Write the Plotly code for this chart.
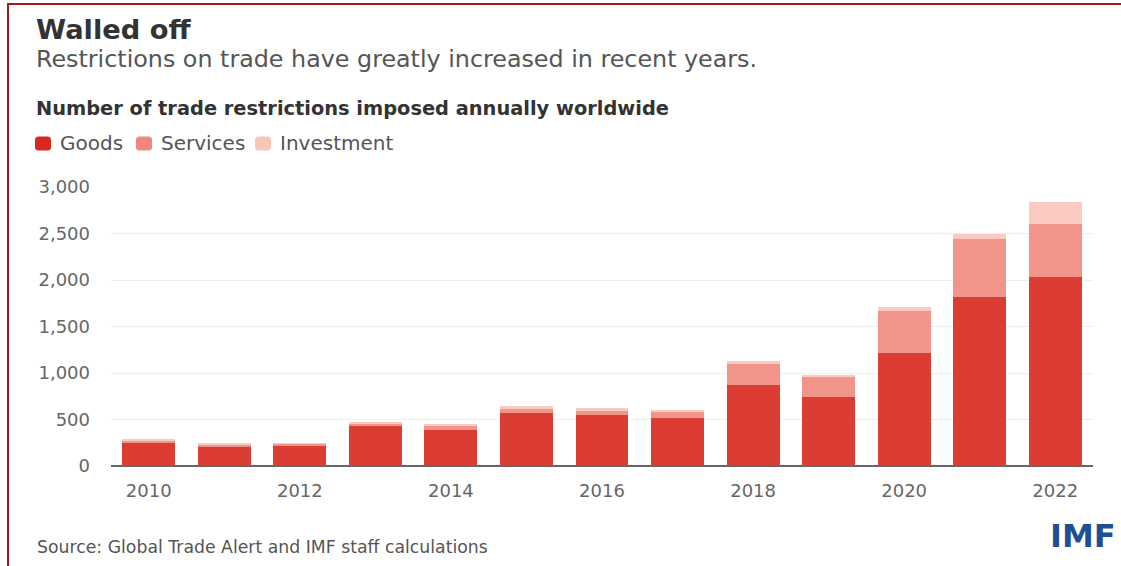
import plotly.graph_objects as go

# ---- data ----
years = [2010, 2011, 2012, 2013, 2014, 2015, 2016, 2017, 2018, 2019, 2020, 2021, 2022]
goods = [250, 215, 218, 430, 387, 573, 548, 516, 870, 745, 1210, 1812, 2027]
services = [25, 20, 20, 25, 50, 39, 53, 75, 233, 207, 462, 626, 572]
investment = [10, 8, 7, 10, 12, 32, 18, 10, 21, 22, 43, 54, 244]
series_names = ["Goods", "Services", "Investment"]
series_colors = ["#DC3D32", "#F1958A", "#FBCBC1"]
y_ticks = [0, 500, 1000, 1500, 2000, 2500, 3000]
x_ticks = [2010, 2012, 2014, 2016, 2018, 2020, 2022]

title = "Walled off"
subtitle = "Restrictions on trade have greatly increased in recent years."
chart_title = "Number of trade restrictions imposed annually worldwide"
source = "Source: Global Trade Alert and IMF staff calculations"
logo = "IMF"

# ---- layout geometry (pixels) ----
W, H = 1121, 566
L, R, T, B = 111, 28, 187, 100
PW, PH = W - L - R, H - T - B
FONT = "DejaVu Sans"


def px(xp):
    return (xp - L) / PW


def py(yp):
    return (H - B - yp) / PH


fig = go.Figure()
for name, vals, col in zip(series_names, [goods, services, investment], series_colors):
    fig.add_trace(go.Bar(
        x=years, y=vals, name=name, width=0.70,
        marker=dict(color=col, line=dict(width=0)),
        showlegend=False,
    ))

annotations = [
    dict(text="<b>" + title + "</b>", x=px(34), y=py(30), xanchor="left", yanchor="middle",
         font=dict(family=FONT, size=27.3, color="#333333")),
    dict(text=subtitle, x=px(34), y=py(59), xanchor="left", yanchor="middle",
         font=dict(family=FONT, size=23.8, color="#555555")),
    dict(text="<b>" + chart_title + "</b>", x=px(34), y=py(108), xanchor="left", yanchor="middle",
         font=dict(family=FONT, size=19.4, color="#333333")),
    dict(text=source, x=px(35), y=py(547), xanchor="left", yanchor="middle",
         font=dict(family=FONT, size=17.3, color="#555555")),
    dict(text="<b>" + logo + "</b>", x=px(1118), y=py(536), xanchor="right", yanchor="middle",
         font=dict(family=FONT, size=32, color="#1D4F91")),
]

shapes = [
    dict(type="line", xref="paper", yref="paper", x0=px(8), x1=px(W + 5), y0=py(4), y1=py(4),
         line=dict(color="#A31A1A", width=2)),
    dict(type="line", xref="paper", yref="paper", x0=px(8), x1=px(8), y0=py(3), y1=py(H + 5),
         line=dict(color="#A31A1A", width=2)),
]

# custom legend (rounded squares + labels)
leg_sq = [(35, 51), (136, 152), (255, 271)]
leg_txt = [58, 159, 278]
leg_fill = ["#D9281E", "#EF877B", "#FBC4B9"]
for i, name in enumerate(series_names):
    x0, x1 = leg_sq[i]
    y0, y1 = 136.5, 150.5
    r = 3.5
    path = (f"M {px(x0 + r)},{py(y0)} L {px(x1 - r)},{py(y0)} Q {px(x1)},{py(y0)} {px(x1)},{py(y0 + r)} "
            f"L {px(x1)},{py(y1 - r)} Q {px(x1)},{py(y1)} {px(x1 - r)},{py(y1)} "
            f"L {px(x0 + r)},{py(y1)} Q {px(x0)},{py(y1)} {px(x0)},{py(y1 - r)} "
            f"L {px(x0)},{py(y0 + r)} Q {px(x0)},{py(y0)} {px(x0 + r)},{py(y0)} Z")
    shapes.append(dict(type="path", xref="paper", yref="paper", path=path,
                       fillcolor=leg_fill[i], line=dict(width=0)))
    annotations.append(dict(text=name, x=px(leg_txt[i]), y=py(143.5), xanchor="left", yanchor="middle",
                            font=dict(family=FONT, size=20, color="#555555")))

for a in annotations:
    a.update(xref="paper", yref="paper", showarrow=False)

fig.update_layout(
    width=W, height=H,
    margin=dict(l=L, r=R, t=T, b=B, pad=0),
    barmode="stack",
    plot_bgcolor="white", paper_bgcolor="white",
    font=dict(family=FONT, color="#666666"),
    annotations=annotations,
    shapes=shapes,
    xaxis=dict(
        range=[2009.5, 2022.5], tickvals=x_ticks, ticktext=[str(v) for v in x_ticks],
        showgrid=False, zeroline=False, showline=False, ticks="",
        tickfont=dict(family=FONT, size=18, color="#666666"), ticklabelstandoff=12,
        automargin=False, fixedrange=True,
    ),
    yaxis=dict(
        range=[0, 3000], tickvals=y_ticks, tickformat=",d",
        showgrid=True, gridcolor="#EEEEEE", gridwidth=1,
        zeroline=True, zerolinecolor="#666666", zerolinewidth=2,
        showline=False, ticks="",
        tickfont=dict(family=FONT, size=18, color="#666666"), ticklabelstandoff=20,
        automargin=False, fixedrange=True,
    ),
)

fig.write_html(
    "out.html",
    config={"displayModeBar": False},
    post_script="document.body.style.margin='0px';document.body.style.overflow='hidden';",
)
